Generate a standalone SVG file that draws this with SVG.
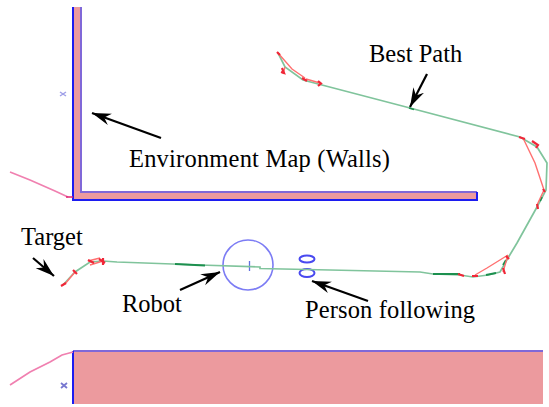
<svg xmlns="http://www.w3.org/2000/svg" width="549" height="407" viewBox="0 0 549 407">
<defs>
<marker id="ah" markerUnits="userSpaceOnUse" markerWidth="20" markerHeight="14" refX="19" refY="7" orient="auto"><path d="M0,1 L19,7 L0,13 L6,7 Z" fill="#000"/></marker>
<filter id="soft" x="-5%" y="-5%" width="110%" height="110%"><feGaussianBlur stdDeviation="0.45"/></filter>
</defs>
<style>
text{font-family:"Liberation Serif",serif;font-size:24.500px;fill:#000}
.wall{fill:#ec9a9e}
.b{stroke:#1a1af0;fill:none;stroke-width:2}
.p{stroke:#8068d8;fill:none;stroke-width:2}
.path{fill:none;stroke:#80c49c;stroke-width:1.700}
.dk{fill:none;stroke:#1f9050;stroke-width:1.800}
.r{fill:none;stroke:#ff7070;stroke-width:1.400}
.rd{fill:none;stroke:#f02838;stroke-width:2.200}
.ar{stroke:#000;stroke-width:2.200;fill:none;marker-end:url(#ah)}
.pk{fill:none;stroke:#f080b0;stroke-width:1.700}
.s{filter:url(#soft)}
</style>
<rect width="549" height="407" fill="#fff"/>
<g id="wall-top" class="s">
<path class="wall" d="M73,7H81V192H477V201H73Z"/>
<path class="p" d="M81,7V192H477"/>
<path class="b" d="M73,7V200H477V192"/>
<path d="M60,92l6,4m0,-4l-6,4" stroke="#a0a0e8" stroke-width="1.500" fill="none"/>
</g>
<g id="wall-bottom" class="s">
<rect class="wall" x="73" y="351" width="470" height="53"/>
<path class="p" d="M73,351H543"/>
<path class="b" d="M73,351V404"/>
<path d="M61,383l6,5m0,-5l-6,5" stroke="#7878d0" stroke-width="1.800" fill="none"/>
</g>
<g id="robot" class="s">
<circle cx="248" cy="265" r="25" fill="none" stroke="#7c7cf4" stroke-width="1.600"/>
<path d="M249.500,261V271" stroke="#6070e0" stroke-width="1.300"/>
</g>
<g id="person" class="s">
<ellipse cx="307" cy="259" rx="7.500" ry="3.500" fill="none" stroke="#4848f0" stroke-width="2"/>
<ellipse cx="307" cy="273" rx="7.500" ry="4" fill="none" stroke="#4848f0" stroke-width="2"/>
</g>
<g id="connectors">
<g class="s">
<path class="path" d="M278,53L285,67L303,80L322,85L410,108L520,137L537,147L547,163L546,190L537,207L517,243L508,258L500,272L488,275L473,277L460,275L433,274L420,272L330,270L260,268.500V267L200,265L117,262L103,261L90,262L75,272L63,285"/>
<path class="dk" d="M175,264L205,265.500M433,274H460M486,275L496,273M409,108l5,1.500M503,265l3,-5M542,197l-2,4"/>
<path class="r" d="M278,53L292,69L305,78M285,67L283,74M306,79L320,83M523,138L535,163L544,190L537,205M508,255L487,268L475,275M508,255L503,272M103,261L90,265M100,258L88,261M75,272L65,284"/>
<path class="rd" d="M277,52l3,3M282,68l2,5l-3,-1M302,78l5,3M318,81l3,2.500l-3,2.500M519,137l6,2M532,141l6,4l-2,3M543,189l2,3M537,204l1,5M506,256l3,3M503,268l2,6M458,274l6,2M472,276l6,0M99,259l6,4M103,258v7M88,260l6,3M73,270l4,4M61,286l5,-3"/>
<path class="pk" d="M10,172L30,180L55,191L68,197"/>
<path d="M66,197H73" stroke="#e02070" stroke-width="1.500"/>
<path class="pk" d="M10,385L30,372L50,362L62,355L73,352"/>
</g>
<path class="ar" d="M161,138L92,113"/>
<path class="ar" d="M427,74L410,107"/>
<path class="ar" d="M33,258L54,276"/>
<path class="ar" d="M180,290L220,272"/>
<path class="ar" d="M368,301L312,281"/>
</g>
<g id="labels">
<text x="369" y="62">Best Path</text>
<text x="129" y="167" textLength="261">Environment Map (Walls)</text>
<text x="21" y="245">Target</text>
<text x="122" y="312">Robot</text>
<text x="305" y="318" textLength="170">Person following</text>
</g>
</svg>
